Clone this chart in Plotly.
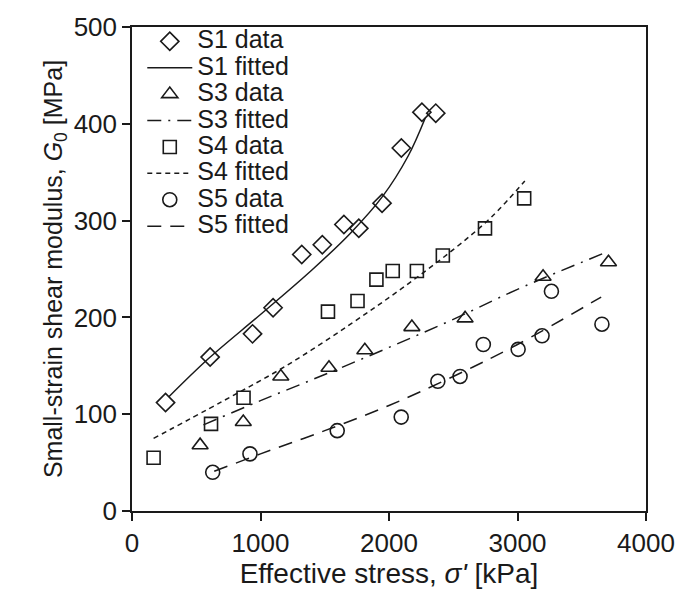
import plotly.graph_objects as go

# ---- data ----
s1_x = [261, 608, 938, 1098, 1321, 1481, 1649, 1765, 1946, 2096, 2256, 2364]
s1_y = [112, 159, 183, 210, 265, 275, 296, 292, 318, 375, 412, 411]
s1_fit_x = [287, 600, 1000, 1400, 1700, 1950, 2150, 2282]
s1_fit_y = [118, 158, 203, 249, 287, 325, 367, 406]

s3_x = [530, 866, 1158, 1533, 1812, 2178, 2592, 3199, 3708]
s3_y = [68, 92, 139, 148, 166, 190, 199, 242, 257]
s3_fit_x = [556, 1000, 1500, 2000, 2500, 3000, 3703]
s3_fit_y = [89, 114, 141, 169, 198, 229, 268]

s4_x = [168, 615, 868, 1525, 1755, 1902, 2029, 2217, 2419, 2747, 3052]
s4_y = [55, 90, 117, 206, 217, 239, 248, 248, 264, 292, 323]
s4_fit_x = [168, 700, 1200, 1700, 2100, 2500, 2800, 3057]
s4_fit_y = [75, 113, 150, 193, 230, 270, 304, 341]

s5_x = [628, 918, 1597, 2095, 2380, 2553, 2734, 3005, 3191, 3264, 3657]
s5_y = [40, 59, 83, 97, 134, 139, 172, 167, 181, 227, 193]
s5_fit_x = [640, 1000, 1500, 2000, 2500, 3000, 3651]
s5_fit_y = [41, 59, 83, 109, 139, 172, 221]

x_ticks = [0, 1000, 2000, 3000, 4000]
y_ticks = [0, 100, 200, 300, 400, 500]

INK = "#1a1a1a"
FONT = "Liberation Sans, Arial, sans-serif"


def lname(s):
    # legend text drawn larger than the legend row spacing font
    return '<span style="font-size:25px">' + s + '</span>'


def data_trace(x, y, sym, name, size=13):
    return go.Scatter(x=x, y=y, mode="markers", name=lname(name),
                      marker=dict(symbol=sym, size=size, color=INK,
                                  line=dict(color=INK, width=1.6)))


def fit_trace(x, y, dash, name):
    return go.Scatter(x=x, y=y, mode="lines", name=lname(name), line_shape="spline",
                      line=dict(color=INK, width=1.5, dash=dash))


fig = go.Figure()
fig.add_trace(data_trace(s1_x, s1_y, "diamond-open", "S1 data", 14))
fig.add_trace(fit_trace(s1_fit_x, s1_fit_y, "solid", "S1 fitted"))
fig.add_trace(data_trace(s3_x, s3_y, "triangle-up-open", "S3 data", 14))
fig.add_trace(fit_trace(s3_fit_x, s3_fit_y, "14px,7px,2px,7px", "S3 fitted"))
fig.add_trace(data_trace(s4_x, s4_y, "square-open", "S4 data", 13))
fig.add_trace(fit_trace(s4_fit_x, s4_fit_y, "5px,4px", "S4 fitted"))
fig.add_trace(data_trace(s5_x, s5_y, "circle-open", "S5 data", 14))
fig.add_trace(fit_trace(s5_fit_x, s5_fit_y, "14px,9px", "S5 fitted"))

axis_common = dict(
    showline=True, linecolor=INK, linewidth=1.5, mirror=True,
    ticks="outside", ticklen=8, tickwidth=1.5, tickcolor=INK,
    showgrid=False, zeroline=False,
    tickfont=dict(size=26, color=INK, family=FONT),
)

fig.update_layout(
    width=687, height=605,
    margin=dict(l=132, r=39, t=25, b=94),
    paper_bgcolor="white", plot_bgcolor="white",
    font=dict(family=FONT, color=INK, size=24),
    xaxis=dict(range=[0, 4000], tickvals=x_ticks,
               title=dict(text="Effective stress, <i>σ'</i> [kPa]",
                          font=dict(size=28), standoff=6),
               **axis_common),
    yaxis=dict(range=[0, 500], tickvals=y_ticks,
               title=dict(text="Small-strain shear modulus, <i>G</i><sub>0</sub> [MPa]",
                          font=dict(size=25), standoff=4),
               **axis_common),
    legend=dict(x=0.02, y=1.008, xanchor="left", yanchor="top",
                bgcolor="rgba(0,0,0,0)", font=dict(size=18, color=INK, family=FONT),
                tracegroupgap=0, itemwidth=45),
    showlegend=True,
)

fig.write_html("out.html")
